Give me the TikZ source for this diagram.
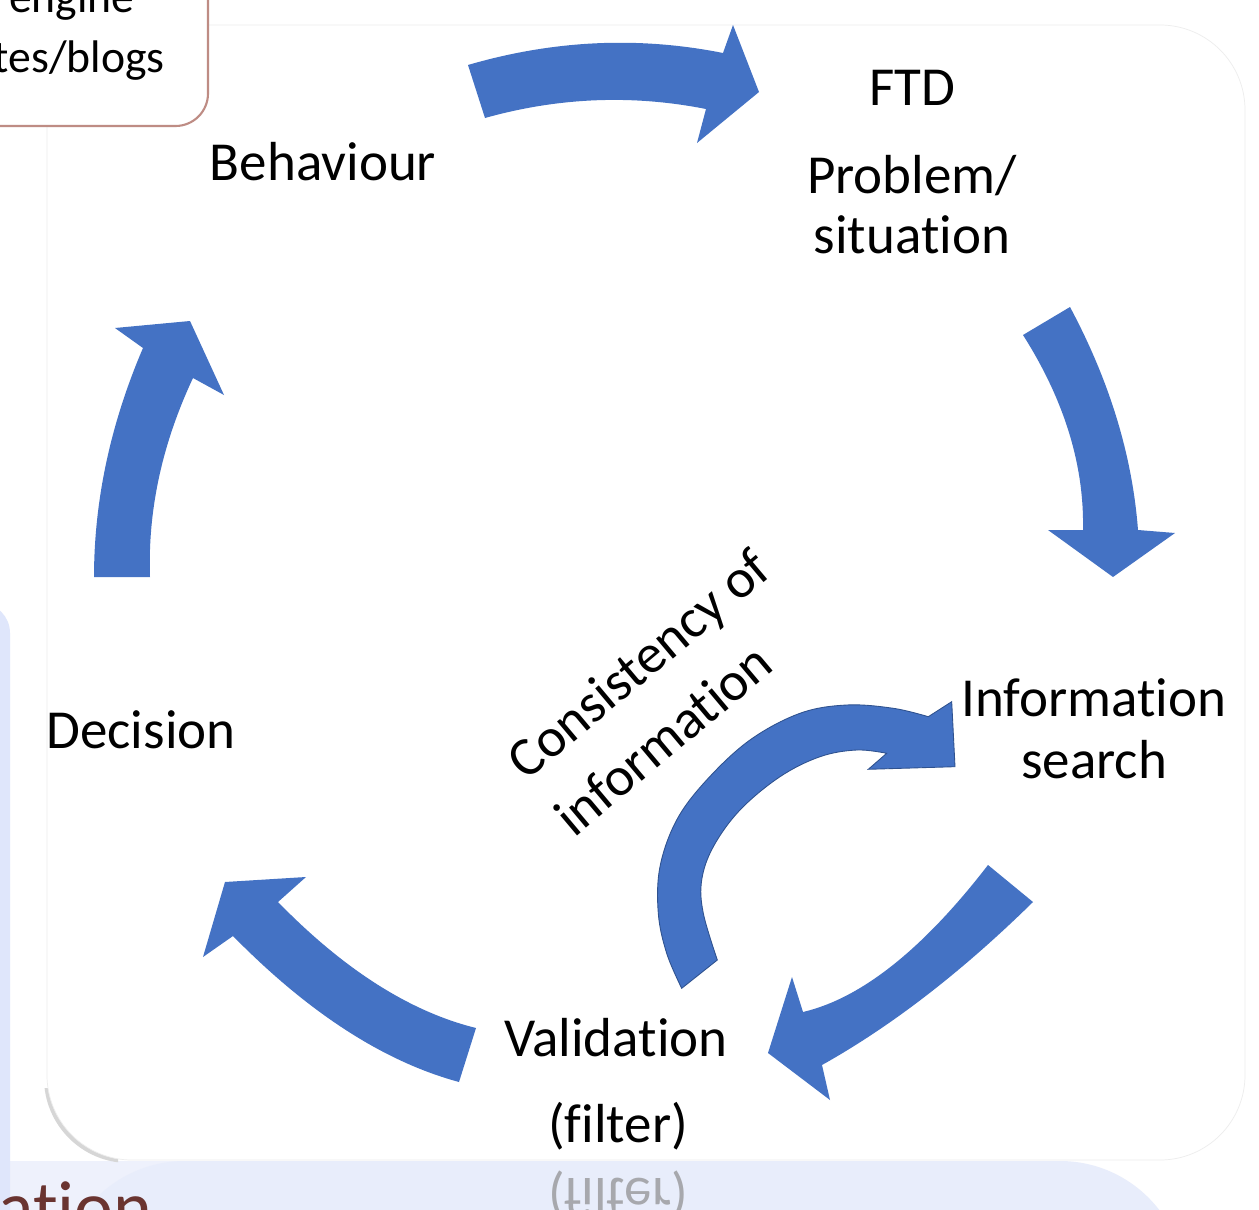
\documentclass[tikz,border=0pt]{standalone}
\usepackage{fontspec}
\setmainfont{Carlito}[Ligatures=NoCommon]
\definecolor{arrowblue}{HTML}{4472C4}
\definecolor{arrowedge}{HTML}{2F528F}
\definecolor{lavA}{HTML}{DFE6FB}
\definecolor{lavB}{HTML}{E8EDFB}
\definecolor{lavC}{HTML}{EEF1FC}
\definecolor{boxedge}{HTML}{BE8C84}
\definecolor{panedge}{HTML}{EDEDED}
\definecolor{darkmaroon}{HTML}{6A3430}
\begin{document}
\begin{tikzpicture}[x=0.02cm,y=-0.02cm,
  lbl/.style={font=\fontsize{31.3}{36}\selectfont, inner sep=0pt, anchor=base, text=black},
  boxtxt/.style={font=\fontsize{26}{31}\selectfont, inner sep=0pt, anchor=base east, text=black},
  blockarrow/.style={fill=arrowblue},
]
\useasboundingbox (0,0) rectangle (1259,1210);
\clip (0,0) rectangle (1259,1210);
\fill[white] (0,0) rectangle (1259,1210);
% background slide remnants
\fill[lavC] (0,1161) rectangle (200,1210);
\fill[lavA, rounded corners=0.6cm] (-40,603) rectangle (10,1260);
\fill[lavB, rounded corners=2.5cm] (60,1161) rectangle (1185,1420);
% shadow of panel corner
\begin{scope}
  \clip (30,1088) rectangle (118,1170);
  \fill[black!16, rounded corners=1.7cm] (44,25) rectangle (1242,1163);
\end{scope}
% main panel
\filldraw[draw=panedge, fill=white, rounded corners=1.7cm] (47,25) rectangle (1245,1160);
% top-left text box
\filldraw[draw=boxedge, line width=1.2pt, fill=white, rounded corners=0.65cm] (-60,-60) rectangle (208,126);
\node[boxtxt] (engine) at (135,12) {engine};
\node[boxtxt] (blogs) at (165,72) {tes/blogs};
% bottom remnant text and reflection
\node[font=\fontsize{42}{50}\selectfont, inner sep=0pt, anchor=base west, text=darkmaroon] (ation) at (-2,1232) {ation};
\node[lbl, yscale=-1, text=black!45, opacity=0.7] (filtrefl) at (618,1178) {(filter)};
% cycle arrows
\fill[blockarrow] (468,65) .. controls (553.3,40.1) and (638.3,36.1) .. (723,53) -- (733,25) -- (759,92) -- (697,143) -- (706,109) .. controls (632.1,94.4) and (558.4,97.4) .. (485,118) -- cycle;
\fill[blockarrow] (1070,307) .. controls (1109.6,381.1) and (1132.3,455.4) .. (1138,530) -- (1175,533) -- (1113,577) -- (1048,530) -- (1083,530) .. controls (1084.3,465) and (1064.3,400) .. (1023,335) -- cycle;
\fill[blockarrow] (1033,902) .. controls (962,971.7) and (891.7,1026) .. (822,1065) -- (830,1100) -- (768,1053) -- (792,977) -- (803,1012) .. controls (861.3,998.3) and (923,949.3) .. (988,865) -- cycle;
\fill[blockarrow] (459,1082) .. controls (384.1,1061.7) and (308.7,1013.1) .. (233,936) -- (203,957) -- (225,882) -- (306,877) -- (278,902) .. controls (344,969.7) and (410,1011.7) .. (476,1028) -- cycle;
\fill[blockarrow] (150,577) .. controls (147.7,510.4) and (162,444.1) .. (193,378) -- (224,395) -- (190,321) -- (115,328) -- (143,348) .. controls (110.4,424.1) and (94.1,500.4) .. (94,577) -- cycle;
% inner loop arrow
\filldraw[fill=arrowblue, draw=arrowedge, line width=0.5pt]
  plot[smooth, tension=0.6] coordinates {(681.7,988.3) (666.7,953.3) (658.3,913.3) (660,866.7) (676.7,820) (706.7,780) (750,740) (800,713.3) (846.7,705) (893.3,708.3) (928.3,716.7)}
  -- (951.7,701.7) -- (955,766.7) -- (868.3,769.3) -- (886.7,753.3)
  -- plot[smooth, tension=0.6] coordinates {(886.7,753.3) (856.7,750) (820,756.7) (780,776.7) (740,810) (713.3,846.7) (701.7,880) (703.3,913.3) (717.3,960)}
  -- cycle;
% labels
\node[lbl] (ftd) at (912,105) {FTD};
\node[lbl] (problem) at (912,193) {Problem/};
\node[lbl] (situation) at (912,253) {situation};
\node[lbl] (behaviour) at (323,180) {Behaviour};
\node[lbl] (information) at (1094,716) {Information};
\node[lbl] (search) at (1094,778) {search};
\node[lbl] (decision) at (141,748) {Decision};
\node[lbl] (validation) at (616,1056) {Validation};
\node[lbl] (filter) at (618,1142) {(filter)};
\node[lbl, anchor=center, rotate=40, align=left, font=\fontsize{31.3}{42}\selectfont] (consistency) at (662,692) {Consistency of\\information};
\end{tikzpicture}
\end{document}
